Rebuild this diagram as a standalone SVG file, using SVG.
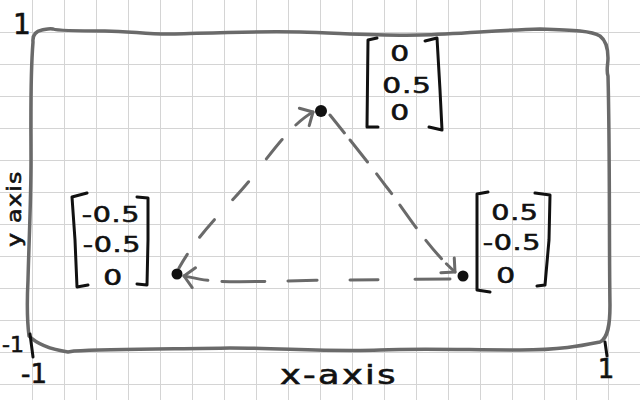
<svg xmlns="http://www.w3.org/2000/svg" width="640" height="400" viewBox="0 0 640 400">
  <style>
    .grid { stroke: #d4d4d4; stroke-width: 1; fill: none; }
    .frame { stroke: #6a6a6a; stroke-width: 3.5; fill: none; stroke-linecap: round; stroke-linejoin: round; }
    .conn { stroke: #6a6a6a; stroke-width: 3; fill: none; stroke-linecap: round; }
    .br { stroke: #111; stroke-width: 3; fill: none; stroke-linecap: round; stroke-linejoin: round; }
    .tick { stroke: #111; stroke-width: 3; stroke-linecap: round; }
    .dot { fill: #111; }
    text { font-family: "DejaVu Sans", "Liberation Sans", sans-serif; fill: #111; stroke: #111; stroke-width: 0.6; }
    .m { font-size: 22px; text-anchor: middle; letter-spacing: 0.5px; }
    .lbl { font-size: 26px; }
  </style>
  <defs>
    <marker id="arrow" markerUnits="userSpaceOnUse" markerWidth="30" markerHeight="30" refX="15" refY="15" orient="auto" overflow="visible">
      <path d="M5,5 L15,15 L5,25" fill="none" stroke="#6a6a6a" stroke-width="3" stroke-linecap="round" stroke-linejoin="round"/>
    </marker>
  </defs>
  <rect width="640" height="400" fill="#ffffff"/>
  <path class="grid" d="M32.5 0V400M64.5 0V400M96.5 0V400M128.5 0V400M160.5 0V400M192.5 0V400M224.5 0V400M256.5 0V400M288.5 0V400M320.5 0V400M352.5 0V400M384.5 0V400M416.5 0V400M448.5 0V400M480.5 0V400M512.5 0V400M544.5 0V400M576.5 0V400M608.5 0V400M0 32.5H640M0 64.5H640M0 96.5H640M0 128.5H640M0 160.5H640M0 192.5H640M0 224.5H640M0 256.5H640M0 288.5H640M0 320.5H640M0 352.5H640M0 384.5H640"/>
  <g id="frame">
    <path class="frame" d="M33,42 Q32,32 42,30 C47,29 50,28 53,29 C58,31 80,31 105,31 C130,31 150,35 175,34 C210,33 250,31 300,32 C340,33 380,36 420,35 C460,34 500,30 540,29 C575,30 592,31 600,36 Q608,42 608,58 C608,65 606,70 608,76 C610,150 609,250 610,305 C610,325 608,338 600,342 C580,346 560,350 520,350 C470,350 420,348 380,350 C330,352 280,348 230,348 C180,349 110,349 74,351 L68,352 C55,350 38,345 29,336 C27,320 27,300 28,280 C29,240 31,200 31,160 C31,120 30,80 33,42 Z"/>
    <line class="tick" x1="30" y1="334" x2="33" y2="357"/>
    <line class="tick" x1="605" y1="342" x2="607" y2="356"/>
  </g>
  <g id="labels">
    <text x="22" y="34" text-anchor="middle" style="font-size:28px">1</text>
    <text x="24" y="352" text-anchor="end" style="font-size:22px">-1</text>
    <text class="lbl" x="34" y="383" text-anchor="middle">-1</text>
    <text class="lbl" x="606" y="378" text-anchor="middle">1</text>
    <text transform="translate(280,384) scale(1.3,1)" x="0" y="0" style="font-size:27px; letter-spacing:1.8px">x-axis</text>
    <text transform="translate(21,247) rotate(-90) scale(1.25,1)" x="0" y="0" style="font-size:19px; letter-spacing:1px">y axis</text>
  </g>
  <g id="connectors">
    <path id="edge-left-top" class="conn" d="M179,268 C200,230 230,205 250,180 S290,125 313,112" stroke-dasharray="16 21 23 27 24 29 25 20 60" marker-end="url(#arrow)"/>
    <path id="edge-top-right" class="conn" d="M330,115 C350,140 368,162 385,185 C405,210 425,245 455,272" stroke-dasharray="23 9 28 15 25 14 28 16 24 7 60" marker-end="url(#arrow)"/>
    <path id="edge-right-left" class="conn" d="M450,279 L350,280 C300,280 240,283 215,281 C200,280 190,277 184,276" stroke-dasharray="35 37 28 33 29 23 43 14 60" marker-end="url(#arrow)"/>
  </g>
  <g id="node-top">
    <circle class="dot" cx="321" cy="111" r="6"/>
    <path class="br" d="M377,38 L368,40 L367,127 L378,127"/>
    <path class="br" d="M425,41 L437,38 L440,90 L442,130 L429,127"/>
    <text class="m" transform="translate(400,61) scale(1.35,1)">0</text>
    <text class="m" transform="translate(407,93) scale(1.35,1)">0.5</text>
    <text class="m" transform="translate(400,120) scale(1.35,1)">0</text>
  </g>
  <g id="node-left">
    <circle class="dot" cx="177" cy="274" r="5.5"/>
    <path class="br" d="M87,193 L72,197 L75,240 L77,287 L88,285"/>
    <path class="br" d="M137,197 L148,198 L148,240 L147,285 L137,284"/>
    <text class="m" transform="translate(111,222) scale(1.3,1)">-0.5</text>
    <text class="m" transform="translate(112,252) scale(1.3,1)">-0.5</text>
    <text class="m" transform="translate(113,285) scale(1.35,1)">0</text>
  </g>
  <g id="node-right">
    <circle class="dot" cx="463" cy="276" r="5.5"/>
    <path class="br" d="M488,192 L477,194 L477,290 L490,292"/>
    <path class="br" d="M535,193 L550,195 L549,240 L545,285 L537,286"/>
    <text class="m" transform="translate(515,220) scale(1.3,1)">0.5</text>
    <text class="m" transform="translate(512,250) scale(1.3,1)">-0.5</text>
    <text class="m" transform="translate(506,283) scale(1.35,1)">0</text>
  </g>
</svg>
